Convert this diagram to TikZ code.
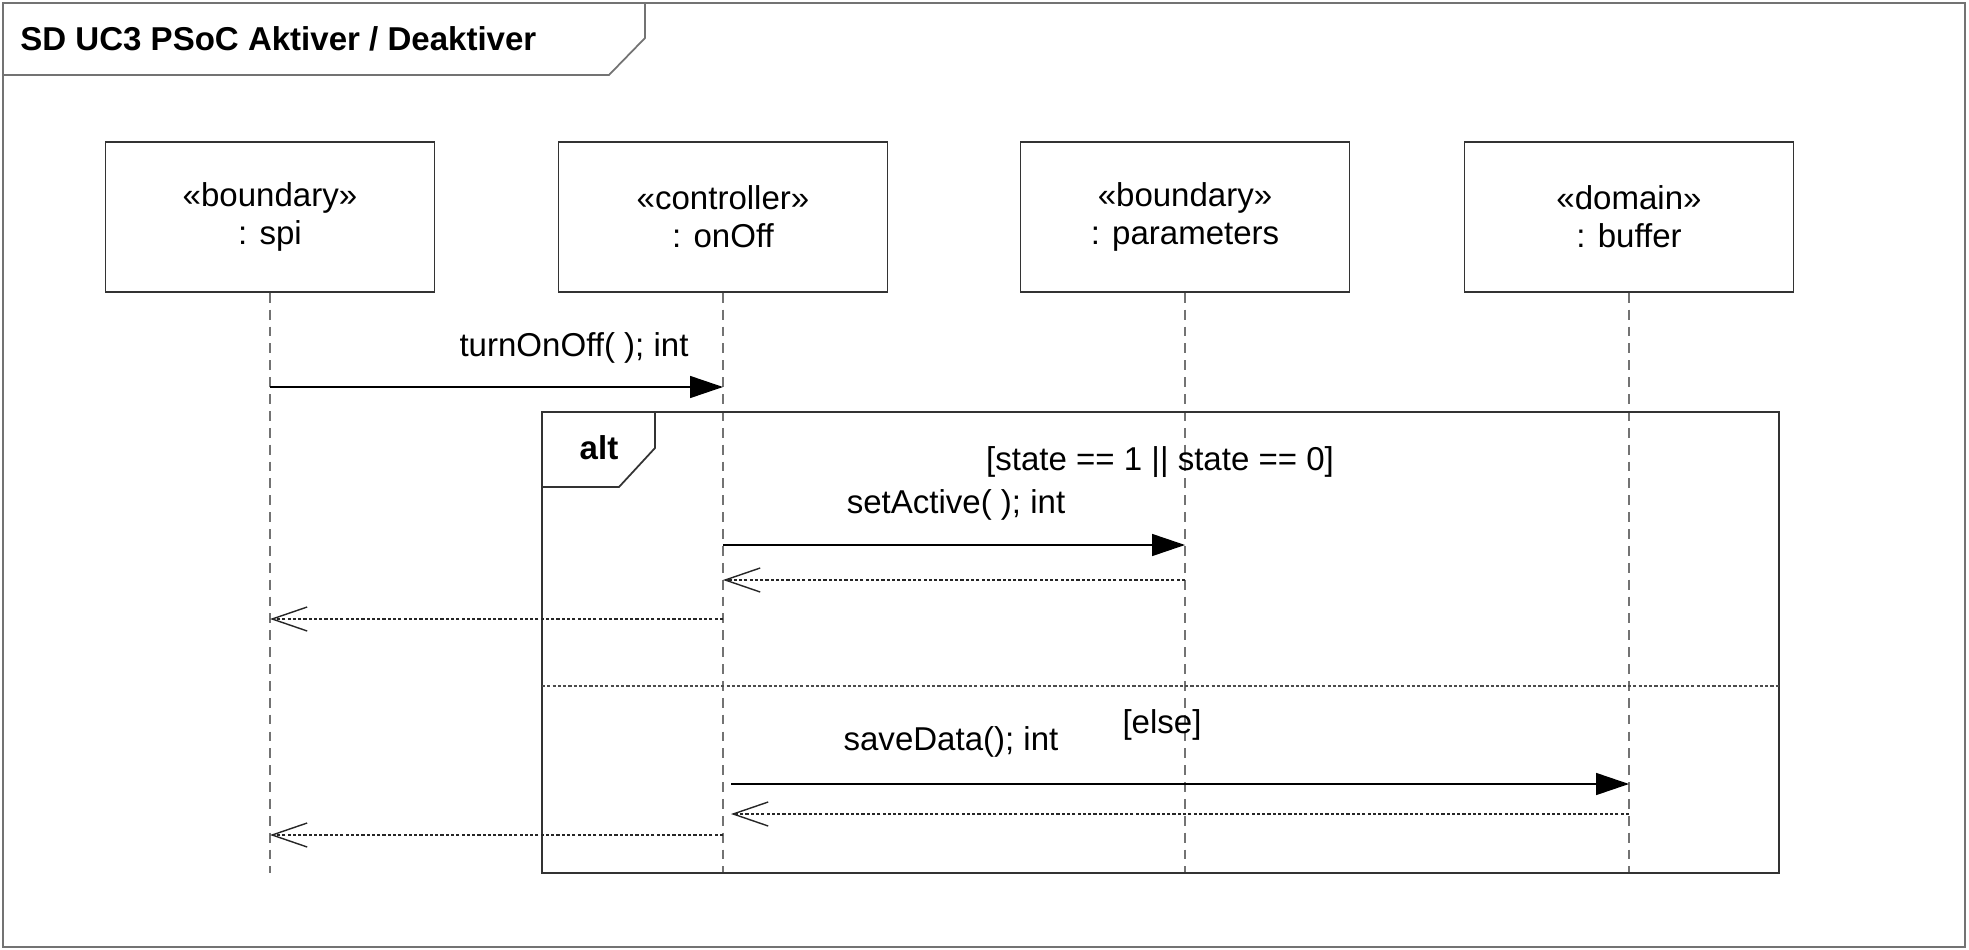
\documentclass[tikz,border=0pt]{standalone}
\usepackage{fontspec}
\setmainfont{Liberation Sans}
\usetikzlibrary{calc, positioning}
\usetikzlibrary{arrows.meta}

\tikzset{
  every node/.style={font=\fontsize{9.4}{10.8}\selectfont},
  frame/.style={draw=black!55, line width=0.5pt},
  lifebox/.style={draw=black!80, line width=0.5pt, minimum width=3.29cm, minimum height=1.50cm, align=center, inner sep=0pt},
  lifeline/.style={draw=black!55, line width=0.5pt, dash pattern=on 2.8pt off 2pt},
  sync/.style={draw=black, line width=0.45pt, -{Triangle[length=0.33cm, width=0.22cm]}},
  reply/.style={draw=black!85, line width=0.4pt, dash pattern=on 0.9pt off 0.6pt, -{Straight Barb[length=0.35cm, width=0.24cm, line width=0.4pt]}}
}

\begin{document}
\begin{tikzpicture}
    \useasboundingbox (0,0) rectangle (19.69,-9.50);

    % sd frame
    \draw[frame] (0.03,-0.03) rectangle (19.65,-9.47);
    \draw[frame] (0.03,-0.75) -- (6.09,-0.75) -- (6.45,-0.38) -- (6.45,-0.03);
    \node[anchor=west, font=\fontsize{9.4}{10.8}\selectfont\bfseries] (title) at (0.08,-0.39) {SD UC3 PSoC Aktiver / Deaktiver};

    % lifelines
    \node[lifebox] (spi) at (2.70,-2.17) {«boundary»\\: spi};
    \node[lifebox] (onOff) at (7.23,-2.17) {«controller»\\: onOff};
    \node[lifebox] (params) at (11.85,-2.17) {«boundary»\\: parameters};
    \node[lifebox] (buffer) at (16.29,-2.17) {«domain»\\: buffer};

    \foreach \obj in {spi, onOff, params, buffer}
      \draw[lifeline] (\obj.south) -- (\obj.south |- 0,-8.73);

    % turnOnOff
    \draw[sync] (spi.south |- 0,-3.87) -- (onOff.south |- 0,-3.87);
    \node (turn) at (5.74,-3.48) {turnOnOff( ); int};

    % alt fragment
    \draw[frame, draw=black!80] (5.42,-4.12) rectangle (17.79,-8.73);
    \draw[frame, draw=black!80] (5.42,-4.87) -- (6.19,-4.87) -- (6.55,-4.48) -- (6.55,-4.12);
    \node[font=\fontsize{9.4}{10.8}\selectfont\bfseries] (alt) at (5.99,-4.48) {alt};
    \draw[draw=black!70, line width=0.4pt, dash pattern=on 0.9pt off 0.6pt] (5.42,-6.86) -- (17.79,-6.86);

    \node (guard1) at (11.60,-4.62) {[state == 1 || state == 0]};
    \node (setAct) at (9.56,-5.05) {setActive( ); int};
    \draw[sync] (onOff.south |- 0,-5.45) -- (params.south |- 0,-5.45);
    \draw[reply] (params.south |- 0,-5.80) -- (onOff.south |- 0,-5.80);
    \draw[reply] (onOff.south |- 0,-6.19) -- (spi.south |- 0,-6.19);

    \node (guard2) at (11.62,-7.25) {[else]};
    \node (save) at (9.51,-7.42) {saveData(); int};
    \draw[sync] ($(onOff.south |- 0,-7.84)+(0.08,0)$) -- (buffer.south |- 0,-7.84);
    \draw[reply] (buffer.south |- 0,-8.14) -- ($(onOff.south |- 0,-8.14)+(0.08,0)$);
    \draw[reply] (onOff.south |- 0,-8.35) -- (spi.south |- 0,-8.35);
\end{tikzpicture}
\end{document}
